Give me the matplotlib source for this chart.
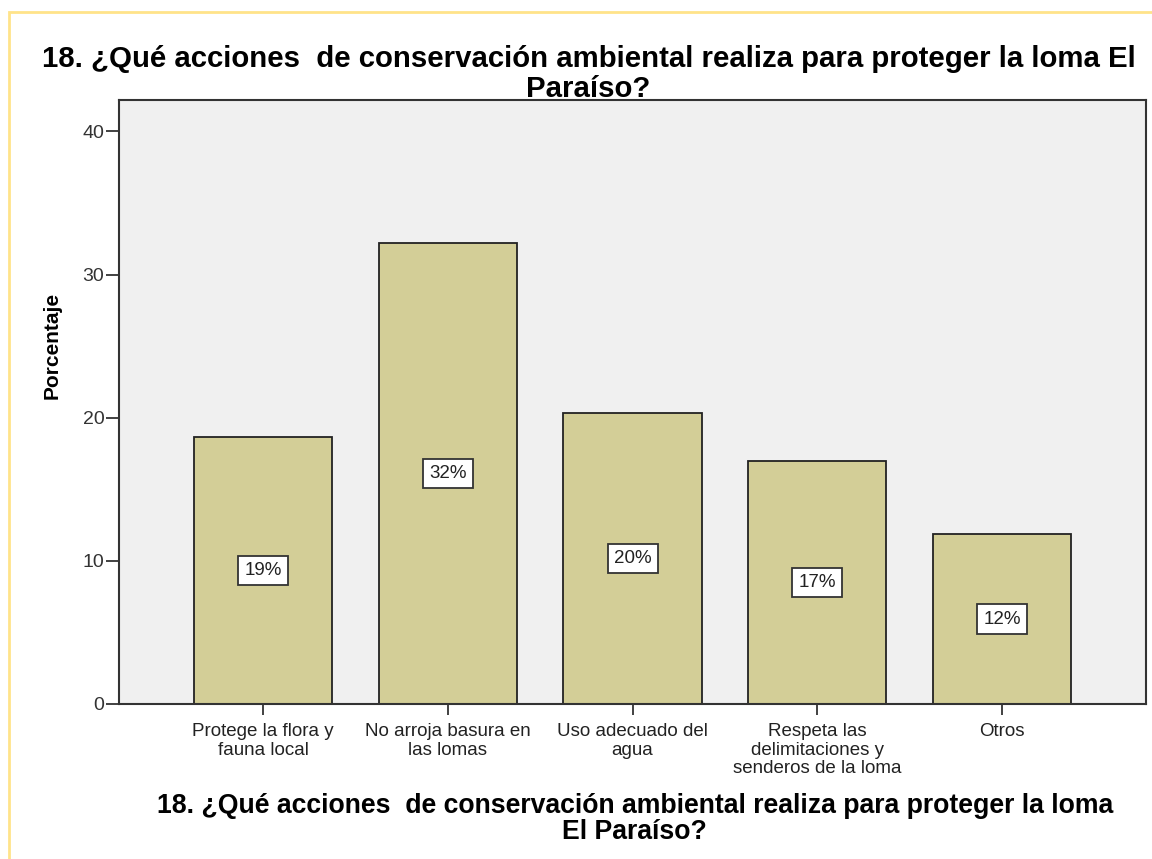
import matplotlib.pyplot as plt
from matplotlib.patches import Rectangle

categorias = ['Protege la flora y\nfauna local',
              'No arroja basura en\nlas lomas',
              'Uso adecuado del\nagua',
              'Respeta las\ndelimitaciones y\nsenderos de la loma',
              'Otros']
porcentajes = [18.64, 32.20, 20.34, 16.95, 11.86]
etiquetas = ['19%', '32%', '20%', '17%', '12%']
yticks = [0, 10, 20, 30, 40]

titulo = '18. ¿Qué acciones  de conservación ambiental realiza para proteger la loma El\nParaíso?'
titulo_x = '18. ¿Qué acciones  de conservación ambiental realiza para proteger la loma\nEl Paraíso?'

plt.rcParams['font.family'] = ['Liberation Sans', 'DejaVu Sans']

fig = plt.figure(figsize=(11.52, 8.59), dpi=100)
# marco amarillo claro del visor
fig.patches.append(Rectangle((9 / 1152, -0.1), 1.2, 1 - 12 / 859 + 0.1,
                             transform=fig.transFigure, fill=False,
                             edgecolor='#FFE38A', linewidth=2))

ax = fig.add_axes([119 / 1152, 1 - 704 / 859, (1146 - 119) / 1152, (704 - 100) / 859])
ax.set_facecolor('#F0F0F0')

x = range(len(categorias))
ax.bar(x, porcentajes, width=0.75, color='#D3CE97', edgecolor='#222222', linewidth=1.3)
for xi, v, t in zip(x, porcentajes, etiquetas):
    ax.text(xi, v / 2, t, ha='center', va='center', fontsize=13.5, color='#222222',
            bbox=dict(boxstyle='square,pad=0.33', facecolor='white', edgecolor='#333333', linewidth=1.3))

ax.set_xlim(-0.78, 4.78)
ax.set_ylim(0, 42.2)
ax.set_yticks(yticks)
ax.set_xticks(list(x))
ax.set_xticklabels(categorias, fontsize=13.5, color='#222222', linespacing=1.1)
ax.tick_params(axis='y', length=9.5, width=1.3, color='#333333', labelsize=14, labelcolor='#333333', pad=1)
ax.tick_params(axis='x', length=8, width=1.3, color='#333333', pad=6)
for s in ax.spines.values():
    s.set_color('#333333')
    s.set_linewidth(1.5)

ax.set_ylabel('Porcentaje', fontsize=15, fontweight='bold')
ax.yaxis.set_label_coords(-0.056, 0.594)
fig.text(0.511, 1 - 74 / 859, titulo, ha='center', va='center', fontsize=21.2,
         fontweight='bold', linespacing=1.12)
fig.text(0.551, 1 - 819 / 859, titulo_x, ha='center', va='center', fontsize=19.2,
         fontweight='bold', linespacing=1.03)

fig.savefig('out.png', dpi=100)
